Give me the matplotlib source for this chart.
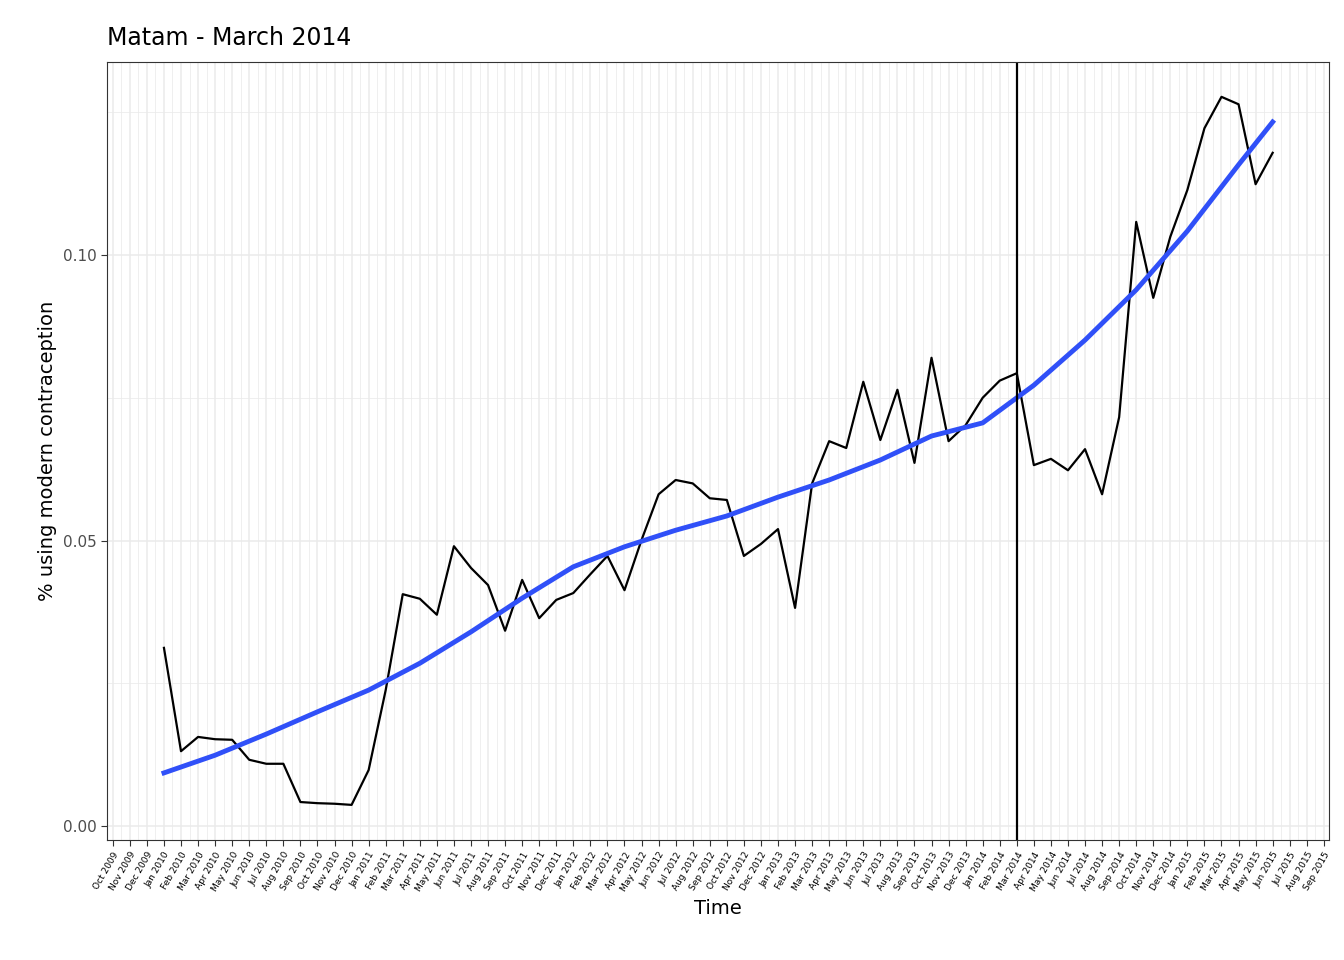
import numpy as np
import matplotlib.pyplot as plt

months = ['Jan', 'Feb', 'Mar', 'Apr', 'May', 'Jun', 'Jul', 'Aug', 'Sep', 'Oct', 'Nov', 'Dec']
# tick labels Oct 2009 .. Sep 2015 (index -3 .. 68, Jan 2010 = 0)
tick_idx = list(range(-3, 69))
tick_labels = [f"{months[(i + 12) % 12]} {2010 + (i + 12) // 12 - 1}" for i in tick_idx]

# observed series, Jan 2010 .. Jun 2015
values = [0.0312, 0.0131, 0.0156, 0.0152, 0.0151, 0.0116, 0.0109, 0.0109, 0.0042, 0.0040,
          0.0039, 0.0037, 0.0098, 0.0238, 0.0406, 0.0398, 0.0370, 0.0490, 0.0452, 0.0422,
          0.0342, 0.0431, 0.0364, 0.0396, 0.0408, 0.0441, 0.0473, 0.0413, 0.0501, 0.0581,
          0.0606, 0.0600, 0.0574, 0.0571, 0.0473, 0.0494, 0.0520, 0.0382, 0.0600, 0.0674,
          0.0662, 0.0778, 0.0676, 0.0764, 0.0636, 0.0820, 0.0674, 0.0702, 0.0750, 0.0780,
          0.0793, 0.0632, 0.0643, 0.0623, 0.0660, 0.0581, 0.0716, 0.1058, 0.0925, 0.1032,
          0.1114, 0.1222, 0.1277, 0.1264, 0.1124, 0.1179]

# smoothed trend
smooth_idx = [0, 3, 6, 9, 12, 15, 18, 21, 24, 27, 30, 33, 36, 39, 42, 45, 48, 51, 54, 57, 60, 63, 65]
smooth_val = [0.0093, 0.0124, 0.0161, 0.0200, 0.0238, 0.0285, 0.0340, 0.0399, 0.0454, 0.0489,
              0.0518, 0.0543, 0.0576, 0.0606, 0.0641, 0.0683, 0.0706, 0.0772, 0.0851, 0.0939,
              0.1042, 0.1158, 0.1233]

intervention = 50  # Mar 2014

fig = plt.figure(figsize=(13.44, 9.6), dpi=100)
ax = fig.add_axes([0.0796, 0.125, 0.9092, 0.8104])

ax.set_xticks(tick_idx)
ax.set_xticks(np.arange(-3.5, 69, 1.0), minor=True)
ax.set_xticklabels(tick_labels, rotation=60, ha='right', rotation_mode='anchor', fontsize=6.5)
ax.set_yticks([0, 0.05, 0.10])
ax.set_yticklabels(['0.00', '0.05', '0.10'], fontsize=11, color='#4d4d4d')
ax.set_yticks([0.025, 0.075, 0.125], minor=True)
ax.grid(True, which='major', color='#EBEBEB', lw=1.1)
ax.grid(True, which='minor', color='#EBEBEB', lw=0.55)
ax.set_axisbelow(True)
ax.tick_params(which='minor', length=0)
ax.tick_params(which='major', length=4, color='#333333')

ax.plot(range(len(values)), values, color='black', lw=1.6)
ax.plot(smooth_idx, smooth_val, color='#3050F8', lw=3.5)
ax.axvline(intervention, color='black', lw=1.6)

ax.set_xlim(-3.34, 68.3)
ax.set_ylim(-0.00245, 0.1338)
for s in ax.spines.values():
    s.set_color('#333333')

ax.set_xlabel('Time', fontsize=14)
ax.set_ylabel('% using modern contraception', fontsize=14)
ax.set_title('Matam - March 2014', fontsize=17, loc='left', pad=12)

fig.savefig('out.png', dpi=100)
